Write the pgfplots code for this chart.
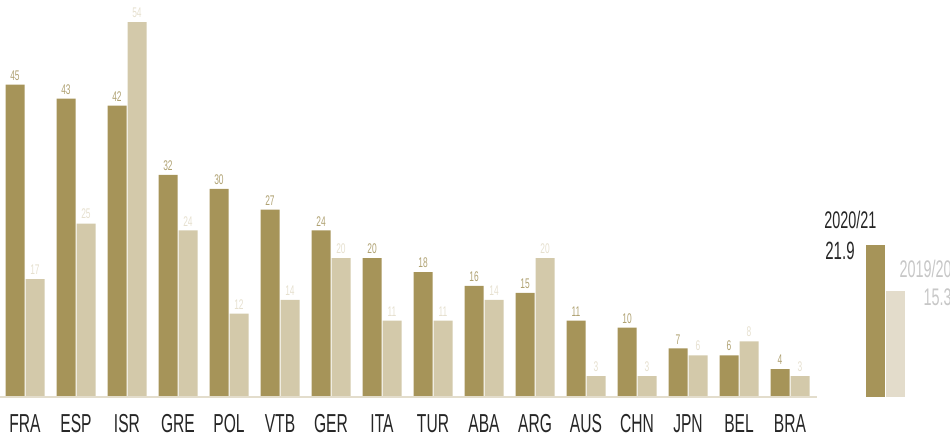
\documentclass[border=0pt]{standalone}
\usepackage{fontspec}
\setmainfont[FakeStretch=0.6]{Liberation Sans}
\usepackage{pgfplots}
\pgfplotsset{compat=1.18}

\definecolor{darkbar}{HTML}{A69459}
\definecolor{lightbar}{HTML}{D3C9AA}
\definecolor{avglight}{HTML}{E3DCCB}
\definecolor{darklab}{HTML}{B0A273}
\definecolor{lightlab}{HTML}{E6E0CF}
\definecolor{basel}{HTML}{E3DDCC}

\begin{document}
\begin{tikzpicture}
\path[use as bounding box] (0,0) rectangle (475pt,218pt);
\begin{axis}[
  at={(12.5pt,19.5pt)}, anchor=origin,
  x=25.5pt, y=3.47pt,
  xmin=-0.49, xmax=18.1, ymin=0, ymax=58,
  clip=false,
  axis line style={draw=none},
  major tick length=0pt,
  ytick=\empty,
  xtick={0,...,15},
  xticklabels={FRA,ESP,ISR,GRE,POL,VTB,GER,ITA,TUR,ABA,ARG,AUS,CHN,JPN,BEL,BRA},
  xticklabel style={anchor=base, inner sep=0pt, yshift=-17.5pt,
    font=\fontsize{13}{14}\selectfont, text=black!85},
  /pgf/number format/assume math mode=true,
]
% 2020/21
\addplot[ybar, bar width=9.5pt, bar shift=-5pt, fill=darkbar, draw=none,
  nodes near coords,
  every node near coord/.append style={font=\fontsize{7}{7}\selectfont,
    text=darklab, anchor=south, inner sep=0pt, yshift=2pt, xshift=-5pt}]
  coordinates {(0,45) (1,43) (2,42) (3,32) (4,30) (5,27) (6,24) (7,20)
    (8,18) (9,16) (10,15) (11,11) (12,10) (13,7) (14,6) (15,4)};
% 2019/20
\addplot[ybar, bar width=9.5pt, bar shift=5pt, fill=lightbar, draw=none,
  nodes near coords,
  every node near coord/.append style={font=\fontsize{7}{7}\selectfont,
    text=lightlab, anchor=south, inner sep=0pt, yshift=2pt, xshift=5pt}]
  coordinates {(0,17) (1,25) (2,54) (3,24) (4,12) (5,14) (6,20) (7,11)
    (8,11) (9,14) (10,20) (11,3) (12,3) (13,6) (14,8) (15,3)};
% averages
\addplot[ybar, bar width=9.5pt, bar shift=-5pt, fill=darkbar, draw=none]
  coordinates {(16.88,21.9)};
\addplot[ybar, bar width=9.5pt, bar shift=5pt, fill=avglight, draw=none]
  coordinates {(16.88,15.3)};
\draw[basel, line width=0.75pt] (axis cs:-0.5,0) -- (axis cs:15.53,0);
\end{axis}
\node[anchor=base west, inner sep=0pt, text=black!85, font=\fontsize{12}{12}\selectfont] at (412pt,104pt) {2020/21};
\node[anchor=base west, inner sep=0pt, text=black!85, font=\fontsize{12.5}{12}\selectfont] at (412.5pt,88.5pt) {21.9};
\node[anchor=base east, inner sep=0pt, text=black!22, font=\fontsize{12}{12}\selectfont] at (476pt,79.5pt) {2019/20};
\node[anchor=base east, inner sep=0pt, text=black!22, font=\fontsize{12}{12}\selectfont] at (476pt,65.5pt) {15.3};
\end{tikzpicture}
\end{document}
